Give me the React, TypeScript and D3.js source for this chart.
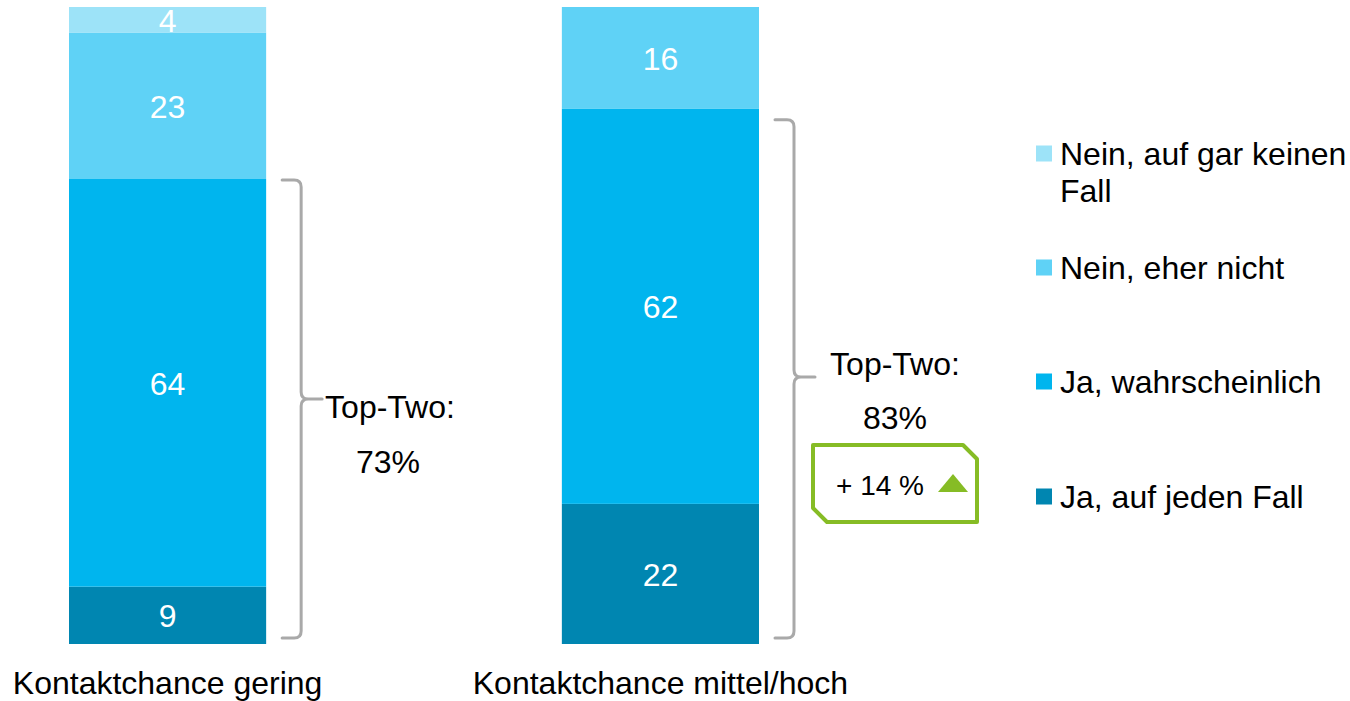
import React from "react";
import * as d3 from "d3";

const categories = ["Kontaktchance gering", "Kontaktchance mittel/hoch"];
const seriesNames = ["Ja, auf jeden Fall", "Ja, wahrscheinlich", "Nein, eher nicht", "Nein, auf gar keinen Fall"];
const jaAufJedenFall = [9, 22];
const jaWahrscheinlich = [64, 62];
const neinEherNicht = [23, 16];
const neinGarKeinen = [4, 0];
const topTwo = [73, 83];
const changeLabel = "+ 14 %";
const colors = ["#0086B1", "#00B5EE", "#5FD2F6", "#9DE3F8"];
const legendOrder = [3, 2, 1, 0];
const legendLines = [["Nein, auf gar keinen", "Fall"], ["Nein, eher nicht"], ["Ja, wahrscheinlich"], ["Ja, auf jeden Fall"]];
const legendBaselines = [165, 279, 393, 508];

const FONT = "'Liberation Sans', Arial, sans-serif";
const FS = 32;

export default function App() {
  const W = 1350, H = 701;
  const x = d3.scaleBand<string>().domain(categories).range([69, 759]).paddingInner(0.6).paddingOuter(0);
  const y = d3.scaleLinear().domain([0, 100]).range([644, 7]);
  const series = [jaAufJedenFall, jaWahrscheinlich, neinEherNicht, neinGarKeinen];
  const table = categories.map((c, i) => {
    const o: any = { cat: c };
    seriesNames.forEach((s, k) => (o[s] = series[k][i]));
    return o;
  });
  const stacked = d3.stack<any>().keys(seriesNames)(table);
  const bw = x.bandwidth();

  const bracketInfo = categories.map((c, i) => {
    const right = (x(c) as number) + bw;
    const top = i === 0 ? y(topTwo[i]) + 1 : y(topTwo[i] - 1) - 2;
    const bottom = y(0) - 6;
    const tip = i === 0 ? 399 : 377;
    return { x0: right + 16, x1: right + 35, top, bottom, tip };
  });

  const bracePath = (b: any) => {
    const r = 7;
    return `M${b.x0},${b.top} H${b.x1 - r} Q${b.x1},${b.top} ${b.x1},${b.top + r} V${b.tip - r} Q${b.x1},${b.tip} ${b.x1 + r},${b.tip} H${b.x1 + 21} M${b.x1 + r},${b.tip} Q${b.x1},${b.tip} ${b.x1},${b.tip + r} V${b.bottom - r} Q${b.x1},${b.bottom} ${b.x1 - r},${b.bottom} H${b.x0}`;
  };

  const bx0 = 813, by0 = 445, bx1 = 977, by1 = 522, cut = 14;
  const badgePath = `M${bx0},${by0} H${bx1 - cut} L${bx1},${by0 + cut} V${by1} H${bx0 + cut} L${bx0},${by1 - cut} Z`;

  return (
    <svg width={W} height={H} style={{ position: "absolute", left: 0, top: 0, background: "#fff" }} fontFamily={FONT}>
      {stacked.map((s, k) => (
        <g key={s.key} fill={colors[k]}>
          {s.map((d, i) => {
            const h = y(d[0]) - y(d[1]);
            if (h <= 0) return null;
            return <rect key={i} x={x(categories[i])} y={y(d[1])} width={bw} height={h} />;
          })}
        </g>
      ))}
      {stacked.map((s) =>
        s.map((d, i) => {
          const v = d[1] - d[0];
          if (v <= 0) return null;
          return (
            <text key={s.key + i} x={(x(categories[i]) as number) + bw / 2} y={(y(d[0]) + y(d[1])) / 2 + 12}
              textAnchor="middle" fill="#fff" fontSize={FS}>{v}</text>
          );
        })
      )}
      {categories.map((c) => (
        <text key={c} x={(x(c) as number) + bw / 2} y={694} textAnchor="middle" fontSize={FS} fill="#000">{c}</text>
      ))}
      {bracketInfo.map((b, i) => (
        <path key={i} d={bracePath(b)} fill="none" stroke="#A9A9A9" strokeWidth={3} strokeLinecap="round" />
      ))}
      <text x={390} y={418} textAnchor="middle" fontSize={FS}>Top-Two:</text>
      <text x={388} y={473} textAnchor="middle" fontSize={FS}>{topTwo[0]}%</text>
      <text x={895} y={375} textAnchor="middle" fontSize={FS}>Top-Two:</text>
      <text x={895} y={429} textAnchor="middle" fontSize={FS}>{topTwo[1]}%</text>
      <path d={badgePath} fill="#fff" stroke="#86BC25" strokeWidth={4} strokeLinejoin="round" />
      <text x={836} y={495} fontSize={28}>{changeLabel}</text>
      <path d={`M938,492 L953,474 L968,492 Z`} fill="#86BC25" />
      {legendOrder.map((k, j) => (
        <g key={k}>
          <rect x={1036} y={legendBaselines[j] - 19.5} width={16} height={16} fill={colors[k]} />
          {legendLines[j].map((ln, li) => (
            <text key={li} x={1060} y={legendBaselines[j] + li * 37} fontSize={FS}>{ln}</text>
          ))}
        </g>
      ))}
    </svg>
  );
}
